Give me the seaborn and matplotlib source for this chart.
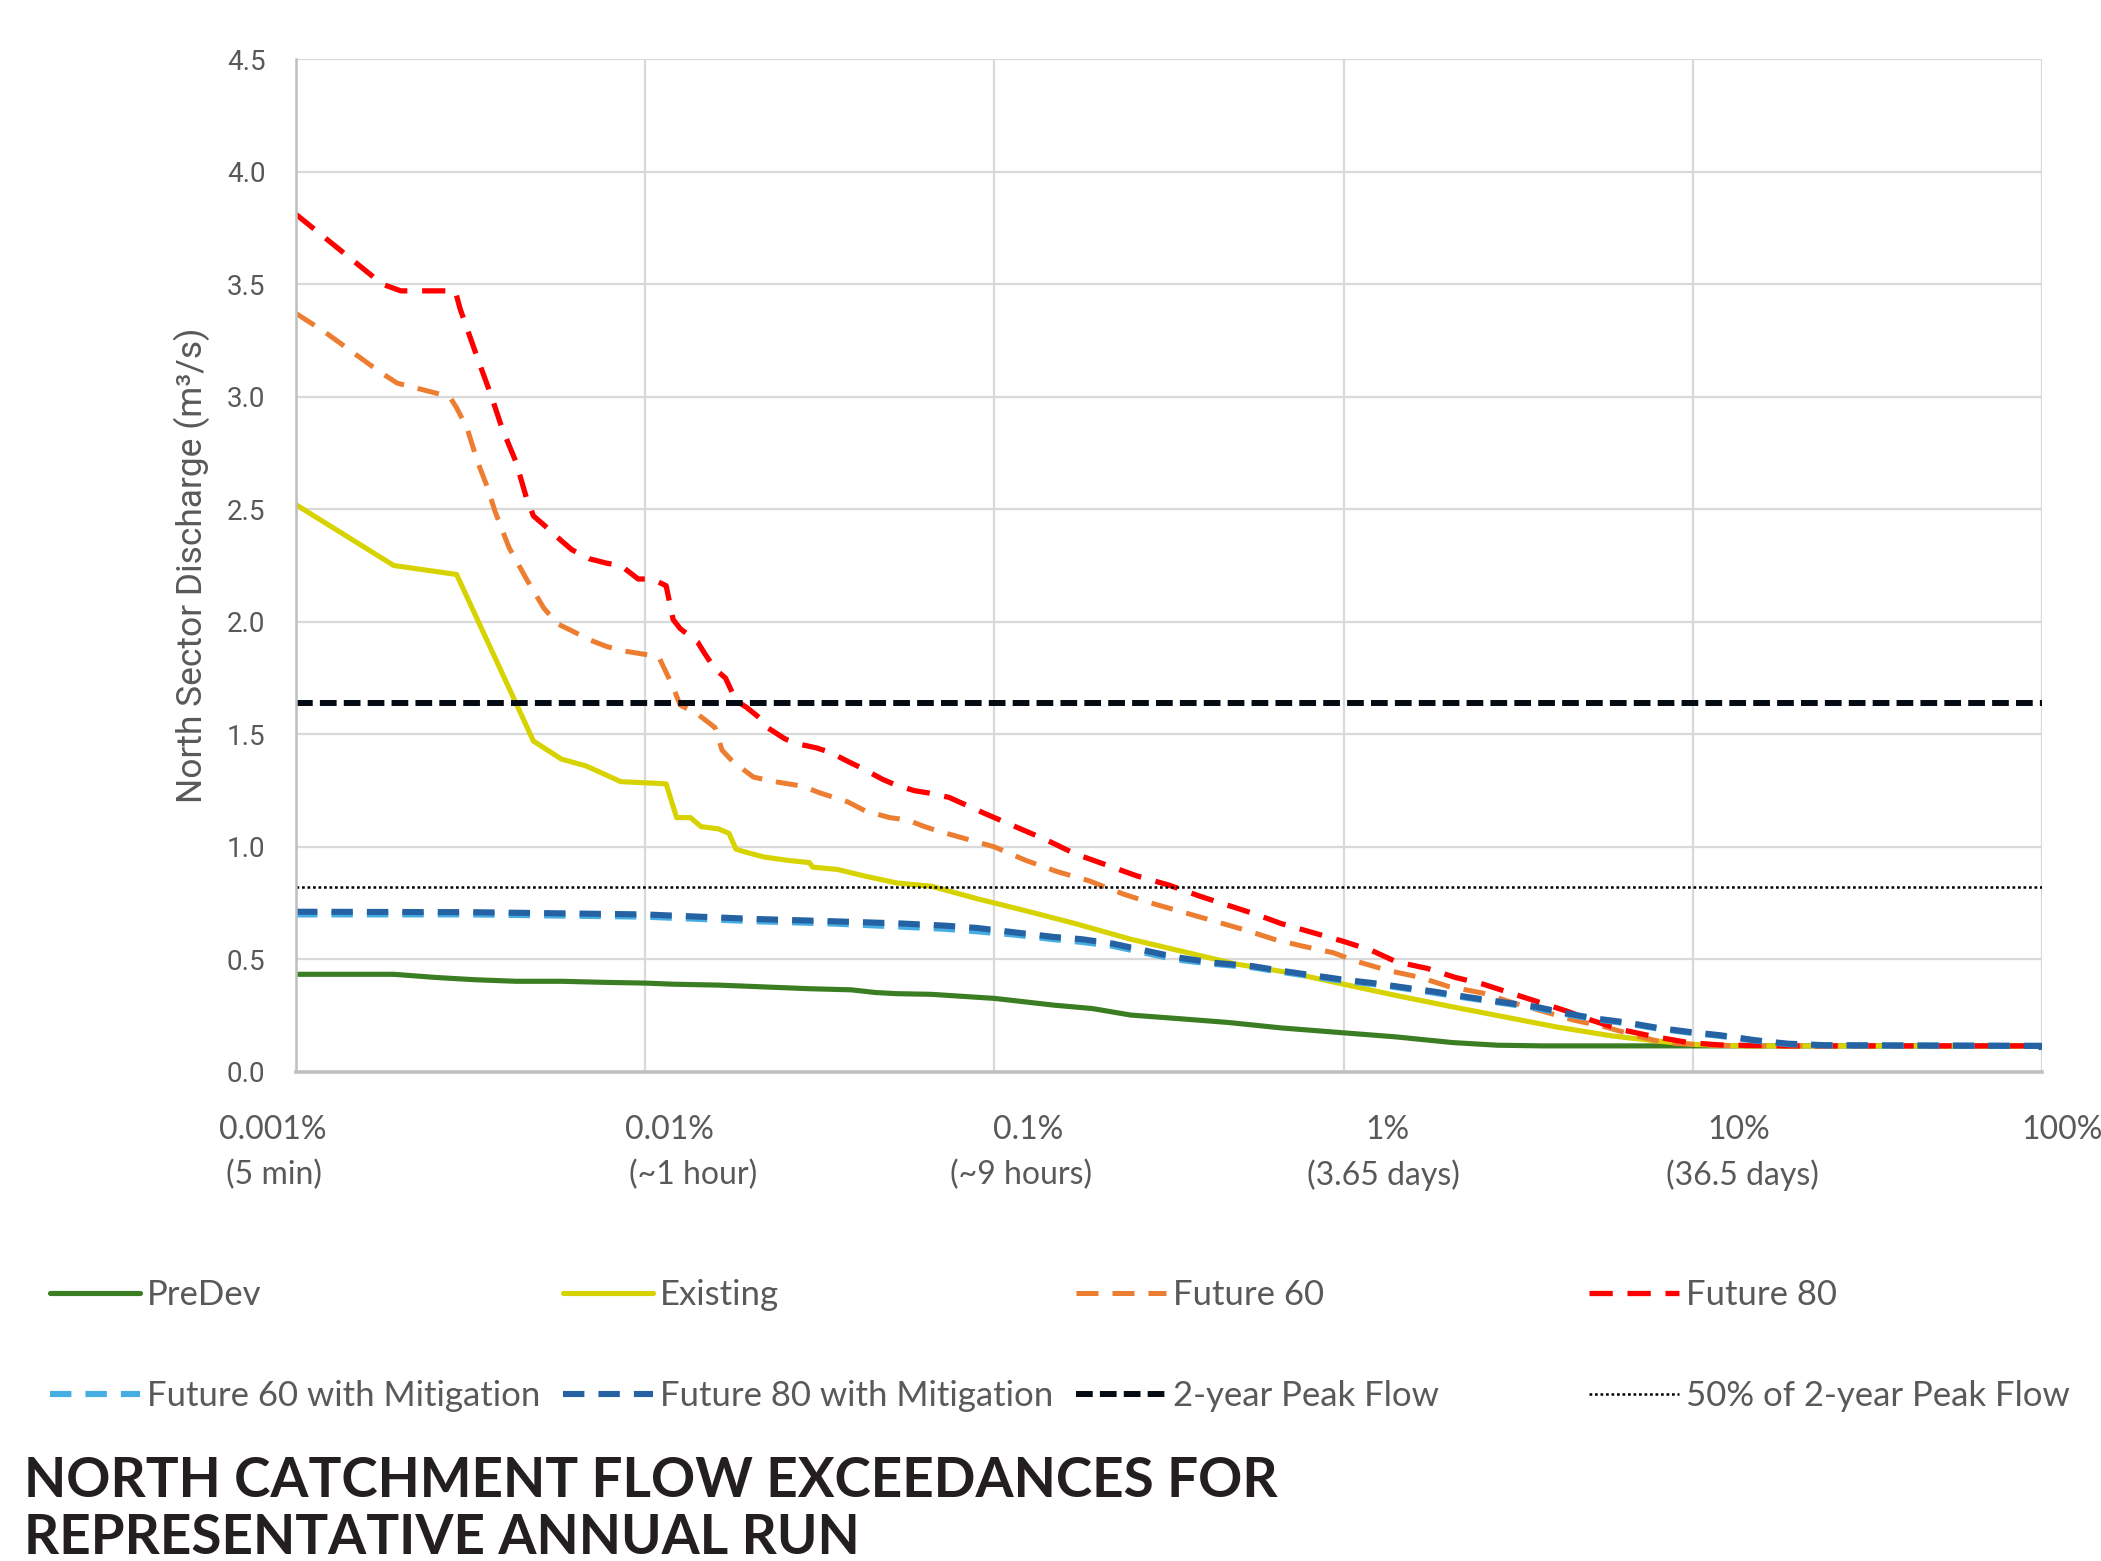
import numpy as np
import pandas as pd
import matplotlib
matplotlib.use("Agg")
import matplotlib.pyplot as plt
import matplotlib.transforms as mtransforms
from matplotlib.ticker import NullLocator, NullFormatter
import seaborn as sns

# ---------------- data (x read as log10 of exceedance %, y in m3/s) ----------------
predev_logp = [-3.0, -2.72, -2.60, -2.49, -2.37, -2.24, -2.11, -2.0, -1.92, -1.79,
               -1.66, -1.53, -1.41, -1.34, -1.28, -1.18, -1.0, -0.83, -0.72, -0.61,
               -0.48, -0.33, -0.18, 0.0, 0.15, 0.31, 0.44, 0.57, 2.0]
predev_q = [0.434, 0.434, 0.42, 0.41, 0.403, 0.403, 0.398, 0.395, 0.39, 0.386,
            0.378, 0.37, 0.365, 0.353, 0.348, 0.345, 0.327, 0.297, 0.282, 0.253,
            0.238, 0.22, 0.196, 0.174, 0.156, 0.131, 0.119, 0.116, 0.116]

existing_logp = [-3.0, -2.72, -2.54, -2.32, -2.24, -2.17, -2.07, -1.94, -1.91, -1.87,
                 -1.84, -1.79, -1.76, -1.74, -1.72, -1.66, -1.59, -1.53, -1.52, -1.45,
                 -1.37, -1.28, -1.18, -1.05, -0.92, -0.77, -0.61, -0.46, -0.31, -0.15,
                 0.0, 0.15, 0.31, 0.46, 0.61, 0.77, 0.90, 1.01, 1.14, 2.0]
existing_q = [2.52, 2.25, 2.21, 1.47, 1.39, 1.36, 1.29, 1.28, 1.13, 1.13,
              1.09, 1.08, 1.06, 0.99, 0.98, 0.955, 0.94, 0.93, 0.91, 0.90,
              0.87, 0.84, 0.825, 0.77, 0.72, 0.66, 0.59, 0.535, 0.48, 0.44,
              0.39, 0.34, 0.29, 0.245, 0.20, 0.16, 0.137, 0.122, 0.116, 0.116]

future60_logp = [-3.0, -2.92, -2.76, -2.71, -2.56, -2.54, -2.51, -2.48, -2.45, -2.43,
                 -2.39, -2.34, -2.29, -2.25, -2.21, -2.16, -2.11, -2.06, -2.02, -1.98,
                 -1.96, -1.92, -1.90, -1.85, -1.80, -1.78, -1.75, -1.69, -1.63, -1.55,
                 -1.50, -1.42, -1.37, -1.30, -1.25, -1.20, -1.16, -1.0, -0.91, -0.82,
                 -0.73, -0.63, -0.55, -0.46, -0.37, -0.28, -0.20, -0.12, -0.03, 0.04,
                 0.13, 0.22, 0.30, 0.40, 0.48, 0.57, 0.66, 0.75, 0.84, 0.92,
                 1.03, 1.15, 2.0]
future60_q = [3.37, 3.29, 3.11, 3.06, 3.00, 2.95, 2.86, 2.71, 2.59, 2.49,
              2.33, 2.19, 2.06, 1.99, 1.96, 1.92, 1.89, 1.87, 1.86, 1.85,
              1.84, 1.71, 1.63, 1.59, 1.53, 1.43, 1.38, 1.31, 1.29, 1.27,
              1.24, 1.20, 1.16, 1.13, 1.12, 1.09, 1.07, 1.00, 0.94, 0.89,
              0.85, 0.79, 0.75, 0.71, 0.67, 0.63, 0.59, 0.56, 0.53, 0.49,
              0.45, 0.42, 0.38, 0.35, 0.31, 0.27, 0.23, 0.20, 0.16, 0.13,
              0.12, 0.116, 0.116]

future80_logp = [-3.0, -2.753, -2.70, -2.544, -2.53, -2.48, -2.44, -2.41, -2.37, -2.34,
                 -2.32, -2.29, -2.24, -2.21, -2.16, -2.11, -2.07, -2.02, -1.98, -1.94,
                 -1.92, -1.90, -1.85, -1.83, -1.80, -1.77, -1.74, -1.71, -1.67, -1.65,
                 -1.60, -1.57, -1.51, -1.47, -1.42, -1.38, -1.32, -1.29, -1.23, -1.19,
                 -1.13, -1.03, -0.94, -0.85, -0.77, -0.68, -0.59, -0.50, -0.41, -0.33,
                 -0.25, -0.18, -0.09, 0.0, 0.08, 0.15, 0.24, 0.32, 0.40, 0.48,
                 0.56, 0.64, 0.71, 0.79, 0.88, 0.99, 1.08, 1.27, 2.0]
future80_q = [3.81, 3.50, 3.47, 3.47, 3.39, 3.17, 3.00, 2.86, 2.71, 2.55,
              2.47, 2.43, 2.36, 2.32, 2.28, 2.26, 2.25, 2.19, 2.19, 2.16,
              2.01, 1.97, 1.91, 1.86, 1.79, 1.75, 1.65, 1.62, 1.57, 1.53,
              1.48, 1.46, 1.44, 1.42, 1.38, 1.35, 1.30, 1.28, 1.25, 1.24,
              1.22, 1.15, 1.09, 1.03, 0.97, 0.92, 0.87, 0.83, 0.78, 0.74,
              0.70, 0.66, 0.62, 0.58, 0.54, 0.49, 0.46, 0.42, 0.39, 0.35,
              0.31, 0.27, 0.23, 0.19, 0.16, 0.13, 0.12, 0.116, 0.116]

mitig_logp = [-3.0, -2.5, -2.0, -1.69, -1.47, -1.27, -1.14, -1.05, -0.94, -0.83,
              -0.75, -0.66, -0.57, -0.48, -0.37, -0.26, -0.18, -0.09, 0.0, 0.09,
              0.18, 0.26, 0.35, 0.46, 0.55, 0.64, 0.72, 0.81, 0.90, 0.99,
              1.08, 1.18, 1.27, 1.38, 1.998, 2.0]
future60_mit_q = [0.70, 0.70, 0.69, 0.67, 0.66, 0.646, 0.636, 0.625, 0.61, 0.59,
                  0.578, 0.56, 0.53, 0.50, 0.48, 0.465, 0.445, 0.425, 0.405, 0.39,
                  0.37, 0.352, 0.33, 0.305, 0.285, 0.256, 0.235, 0.216, 0.193, 0.175,
                  0.16, 0.139, 0.124, 0.118, 0.116, 0.077]
future80_mit_q = [0.712, 0.71, 0.70, 0.68, 0.67, 0.66, 0.65, 0.64, 0.62, 0.60,
                  0.59, 0.57, 0.54, 0.51, 0.485, 0.47, 0.45, 0.43, 0.41, 0.394,
                  0.374, 0.357, 0.334, 0.309, 0.29, 0.26, 0.238, 0.22, 0.196, 0.178,
                  0.163, 0.141, 0.126, 0.119, 0.116, 0.077]

peak_2yr = 1.64
peak_2yr_half = 0.82

series_names = ["PreDev", "Existing", "Future 60", "Future 80",
                "Future 60 with Mitigation", "Future 80 with Mitigation"]
ref_names = ["2-year Peak Flow", "50% of 2-year Peak Flow"]

xtick_vals = [0.001, 0.01, 0.1, 1, 10, 100]
xtick_line1 = ["0.001%", "0.01%", "0.1%", "1%", "10%", "100%"]
xtick_line2 = ["(5 min)", "(~1 hour)", "(~9 hours)", "(3.65 days)", "(36.5 days)", ""]
ytick_vals = [0.0, 0.5, 1.0, 1.5, 2.0, 2.5, 3.0, 3.5, 4.0, 4.5]

title_lines = ["NORTH CATCHMENT FLOW EXCEEDANCES FOR", "REPRESENTATIVE ANNUAL RUN"]
ylabel = "North Sector Discharge (m\u00b3/s)"

# ---------------- styles ----------------
styles = {
    "PreDev": dict(color="#3B7D23", lw=3.7, ls="-"),
    "Existing": dict(color="#D6D300", lw=3.7, ls="-"),
    "Future 60": dict(color="#ED7D31", lw=3.6, ls=(0, (4.4, 2.8))),
    "Future 80": dict(color="#FF0000", lw=3.8, ls=(0, (4.4, 2.8))),
    "Future 60 with Mitigation": dict(color="#45ADE2", lw=4.4, ls=(0, (3.5, 2.3))),
    "Future 80 with Mitigation": dict(color="#2462A3", lw=4.4, ls=(0, (3.5, 2.3))),
    "2-year Peak Flow": dict(color="#050B12", lw=4.3, ls=(0, (2.8, 1.2))),
    "50% of 2-year Peak Flow": dict(color="#000000", lw=1.8, ls=(0, (1.1, 1.1))),
}

# ---------------- figure ----------------
sns.set_style("white")
plt.rcParams["font.family"] = ["Roboto", "DejaVu Sans"]

W, H, DPI = 2101, 1561, 100
fig = plt.figure(figsize=(W / DPI, H / DPI), dpi=DPI, facecolor="white")
L, R, T, B = 296, 2042, 59, 1072
ax = fig.add_axes([L / W, 1 - B / H, (R - L) / W, (B - T) / H])

data = {
    "PreDev": (predev_logp, predev_q),
    "Existing": (existing_logp, existing_q),
    "Future 60": (future60_logp, future60_q),
    "Future 80": (future80_logp, future80_q),
    "Future 60 with Mitigation": (mitig_logp, future60_mit_q),
    "Future 80 with Mitigation": (mitig_logp, future80_mit_q),
}

ax.set_xscale("log")
lines = {}
for name in series_names:
    lp, q = data[name]
    pct = np.power(10.0, np.asarray(lp, dtype=float))
    st = styles[name]
    sns.lineplot(x=pct, y=q, ax=ax, color=st["color"], linewidth=st["lw"],
                 estimator=None, sort=False, legend=False)
    ln = ax.lines[-1]
    ln.set_linestyle(st["ls"])
    lines[name] = ln

for name, val in zip(ref_names, [peak_2yr, peak_2yr_half]):
    st = styles[name]
    lines[name] = ax.axhline(val, color=st["color"], lw=st["lw"], ls=st["ls"])

ax.set_xlim(xtick_vals[0], xtick_vals[-1])
ax.set_ylim(ytick_vals[0], ytick_vals[-1])
ax.set_yticks(ytick_vals)
ax.set_yticklabels([f"{v:.1f}" for v in ytick_vals])
ax.set_xticks(xtick_vals)
ax.xaxis.set_major_formatter(NullFormatter())
ax.xaxis.set_minor_locator(NullLocator())
ax.tick_params(axis="both", length=0)
ax.tick_params(axis="y", labelsize=20, labelcolor="#595959", pad=22)
ax.grid(True, which="major", color="#D9D9D9", lw=1.6)
ax.set_axisbelow(True)
for s in ["top", "right"]:
    ax.spines[s].set_visible(False)
ax.spines["left"].set_color("#BFBFBF")
ax.spines["left"].set_linewidth(1.8)
ax.spines["bottom"].set_color("#BFBFBF")
ax.spines["bottom"].set_linewidth(2.6)

ax.set_ylabel(ylabel, fontsize=25.5, color="#595959")
ax.yaxis.set_label_coords(-0.049, 0.5)

# x tick labels: two lines with individual offsets (pixels)
dx1 = [-23, 24, 34, 44, 46, 20]
dx2 = [-22, 48, 27, 40, 50, 0]
row_dy = [-58, -103]
for i, xv in enumerate(xtick_vals):
    for txt, dxs, dy in [(xtick_line1[i], dx1, row_dy[0]), (xtick_line2[i], dx2, row_dy[1])]:
        if not txt:
            continue
        tr = ax.get_xaxis_transform() + mtransforms.ScaledTranslation(
            dxs[i] / DPI, dy / DPI, fig.dpi_scale_trans)
        ax.text(xv, 0, txt, transform=tr, ha="center", va="center",
                fontsize=23, color="#595959", family=["Lato", "DejaVu Sans"],
                clip_on=False)

# legend: 4 columns x 2 rows
legend_cols = [("PreDev", "Future 60 with Mitigation"),
               ("Existing", "Future 80 with Mitigation"),
               ("Future 60", "2-year Peak Flow"),
               ("Future 80", "50% of 2-year Peak Flow")]
col_x = [50, 563, 1076, 1589]
for (a, b), cx in zip(legend_cols, col_x):
    fig.legend(handles=[lines[a], lines[b]], labels=[a, b], loc="upper left",
               bbox_to_anchor=(cx / W, 1 - 1279 / H), frameon=False,
               prop={"family": ["Lato", "DejaVu Sans"], "size": 25},
               labelcolor="#595959", handlelength=2.6, handletextpad=0.2,
               labelspacing=1.98, borderpad=0, borderaxespad=0)

# title
for line_txt, base_y in zip(title_lines, [1497, 1554]):
    fig.text(24 / W, 1 - base_y / H, line_txt, ha="left", va="baseline",
             fontsize=39.5, fontweight="bold", color="#231F20",
             family=["Lato", "DejaVu Sans"])

fig.savefig("out.png", dpi=DPI, facecolor="white")
